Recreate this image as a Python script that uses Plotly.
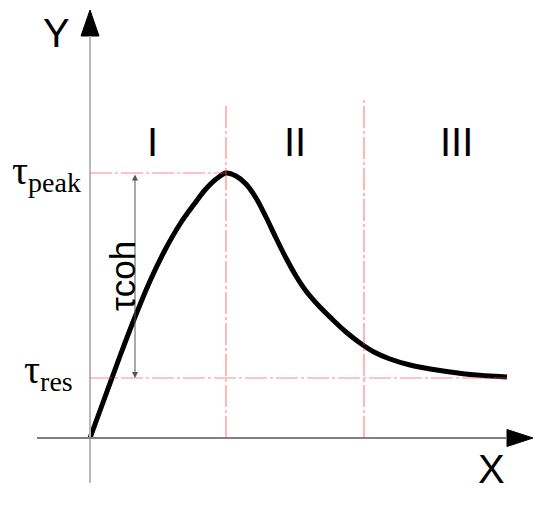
import plotly.graph_objects as go

# ---- data (schematic units: x right from origin, y up from origin) ----
curve_x = [0, 15, 30, 45, 60, 75, 90, 105, 115, 125, 136,
           146, 156, 166, 176, 186, 196, 206, 216, 228, 242, 256, 270, 284, 300, 320, 350, 380, 417]
curve_y = [0, 41, 82, 121, 157, 188, 214, 235, 248, 258, 265,
           262, 254, 240, 221, 200, 180, 162, 147, 133, 119, 106, 95, 86, 79, 73, 67.5, 63.5, 61]

x_peak = 136          # x of peak / boundary I-II
y_peak = 265          # tau_peak level
y_res = 60            # tau_res level
x_bound2 = 274        # boundary II-III
x_end = 417           # end of curve / x-axis
x_coh = 45            # position of tau_coh dimension arrow

region_labels = ["I", "II", "III"]
region_x = [62, 205, 366]
region_y = 296

fig = go.Figure()

# main curve
fig.add_trace(go.Scatter(x=curve_x, y=curve_y, mode="lines",
                         line=dict(color="black", width=5, shape="spline", smoothing=1.0),
                         hoverinfo="skip", showlegend=False))

shapes = []
red = "rgba(255,70,70,0.65)"
dash = "22px,3px,3px,3px"
# axes
shapes.append(dict(type="line", x0=0, x1=0, y0=-45, y1=402, line=dict(color="#b8b8b8", width=2)))
shapes.append(dict(type="line", x0=-53, x1=x_end, y0=0, y1=0, line=dict(color="#808080", width=2)))
# red guide lines
shapes.append(dict(type="line", x0=x_peak, x1=x_peak, y0=0, y1=335, line=dict(color=red, width=1.2, dash=dash)))
shapes.append(dict(type="line", x0=x_bound2, x1=x_bound2, y0=0, y1=341, line=dict(color=red, width=1.2, dash=dash)))
shapes.append(dict(type="line", x0=0, x1=x_peak, y0=y_peak, y1=y_peak, line=dict(color=red, width=1.2, dash=dash)))
shapes.append(dict(type="line", x0=0, x1=x_end, y0=y_res, y1=y_res, line=dict(color=red, width=1.2, dash=dash)))
fig.update_layout(shapes=shapes)

# axis arrowheads
fig.add_trace(go.Scatter(x=[-9, 9, 0, -9], y=[402, 402, 428, 402], mode="lines", fill="toself",
                         fillcolor="black", line=dict(color="black", width=1),
                         hoverinfo="skip", showlegend=False))
fig.add_trace(go.Scatter(x=[x_end, x_end, x_end + 26, x_end], y=[-8.5, 8.5, 0, -8.5], mode="lines",
                         fill="toself", fillcolor="black", line=dict(color="black", width=1),
                         hoverinfo="skip", showlegend=False))

ann = []
# tau_coh dimension arrow
ann.append(dict(x=x_coh, y=y_res, ax=x_coh, ay=y_peak, xref="x", yref="y", axref="x", ayref="y",
                text="", showarrow=True, arrowhead=2, arrowside="end+start", arrowsize=1.2,
                arrowwidth=1, arrowcolor="#555"))
sans = "Liberation Sans, Arial, sans-serif"
serif = "Liberation Serif, Times New Roman, serif"
ann.append(dict(x=-34, y=405, text="Y", showarrow=False, font=dict(family=sans, size=40, color="black")))
ann.append(dict(x=401, y=-31, text="X", showarrow=False, font=dict(family=sans, size=40, color="black")))
for t, xx in zip(region_labels, region_x):
    ann.append(dict(x=xx, y=region_y, text=t, showarrow=False, font=dict(family=sans, size=40, color="black")))
ann.append(dict(x=-7, y=265, text="τ<sub>peak</sub>", showarrow=False, xanchor="right", yanchor="middle",
                font=dict(family=serif, size=40, color="black")))
ann.append(dict(x=-15, y=66, text="τ<sub>res</sub>", showarrow=False, xanchor="right", yanchor="middle",
                font=dict(family=serif, size=40, color="black")))
ann.append(dict(x=32, y=162, text="τcoh", showarrow=False, textangle=-90,
                font=dict(family=sans, size=35, color="black")))
fig.update_layout(annotations=ann)

# page body has an 8px margin, so the ranges are shifted by 8 units to compensate
fig.update_layout(width=550, height=505, autosize=False,
                  margin=dict(l=0, r=0, t=0, b=0),
                  paper_bgcolor="white", plot_bgcolor="white",
                  xaxis=dict(range=[-82, 468], visible=False, fixedrange=True),
                  yaxis=dict(range=[-75, 430], visible=False, fixedrange=True))

fig.write_html("out.html")
